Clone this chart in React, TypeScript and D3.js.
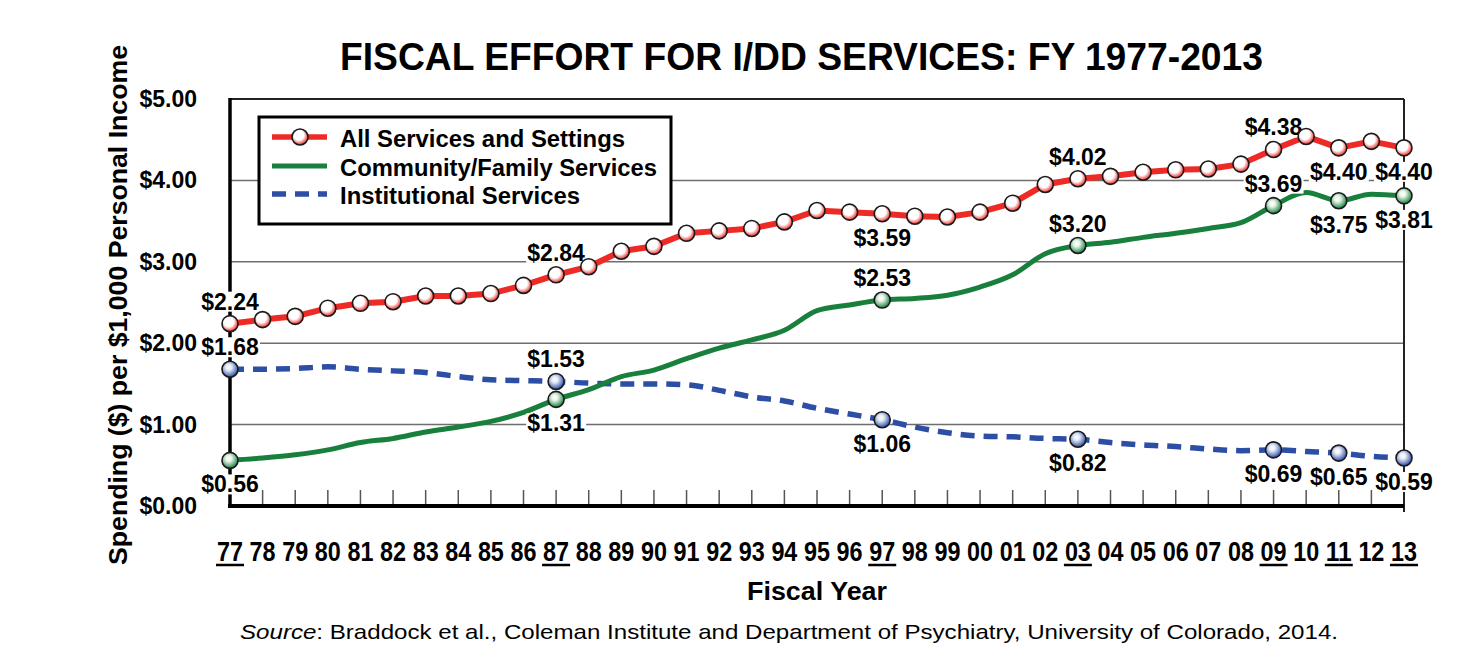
import React from 'react';
import * as d3 from 'd3';

const years = ['77','78','79','80','81','82','83','84','85','86','87','88','89','90','91','92','93','94','95','96','97','98','99','00','01','02','03','04','05','06','07','08','09','10','11','12','13'];
const allServices = [2.24,2.29,2.33,2.43,2.49,2.51,2.58,2.58,2.61,2.71,2.84,2.94,3.13,3.19,3.35,3.38,3.41,3.49,3.63,3.61,3.59,3.56,3.55,3.61,3.72,3.95,4.02,4.05,4.10,4.13,4.14,4.20,4.38,4.54,4.40,4.48,4.40];
const community = [0.56,0.59,0.63,0.69,0.78,0.83,0.91,0.97,1.04,1.15,1.31,1.43,1.59,1.67,1.81,1.94,2.04,2.16,2.40,2.47,2.53,2.55,2.59,2.69,2.84,3.10,3.20,3.24,3.30,3.35,3.41,3.48,3.69,3.85,3.75,3.83,3.81];
const institutional = [1.68,1.68,1.69,1.71,1.68,1.66,1.64,1.59,1.55,1.54,1.53,1.51,1.50,1.50,1.49,1.42,1.34,1.29,1.20,1.13,1.06,0.97,0.90,0.86,0.85,0.83,0.82,0.78,0.75,0.73,0.70,0.68,0.69,0.67,0.65,0.61,0.59];
const underlinedYears = ['77','87','97','03','09','11','13'];
const yTicks = [0,1,2,3,4,5];
const seriesNames = ['All Services and Settings','Community/Family Services','Institutional Services'];
// label positions: 'a' above, 'b' below for each labelled year
const redLabelPos = ['a','a','b','a','a','b','b'];
const greenLabelPos = ['b','b','a','a','a','b','b'];
const blueLabelPos = ['a','a','b','b','b','b','b'];

const RED = '#ee2a26';
const GREEN = '#18803c';
const BLUE = '#2c4ea5';
const FONT = '"Liberation Sans", Arial, Helvetica, sans-serif';
const fmt = d3.format('$.2f');

export default function App() {
  const W = 1468, H = 656;
  const x = d3.scalePoint<string>().domain(years).range([230, 1404]);
  const y = d3.scaleLinear().domain([0, 5]).range([506, 99]);
  const lineLinear = d3.line<number>().x((_, i) => x(years[i])!).y(d => y(d));
  const lineSmooth = d3.line<number>().x((_, i) => x(years[i])!).y(d => y(d)).curve(d3.curveMonotoneX);
  const left = x(years[0])!, right = x(years[years.length - 1])!;
  const top = y(5), bottom = y(0);

  const labelIdx = underlinedYears.map(yr => years.indexOf(yr));

  const makeLabels = (vals: number[], pos: string[], key: string) =>
    labelIdx.map((idx, k) => {
      const cx = x(years[idx])!;
      const py = y(vals[idx]);
      const base = pos[k] === 'a' ? py - 14 : py + 32;
      return (
        <g key={key + k}>
          <rect x={cx - 30} y={base - 18} width={60} height={20} fill="#fff" />
          <text x={cx} y={base} textAnchor="middle" fontFamily={FONT} fontWeight="bold" fontSize={23} fill="#000">{fmt(vals[idx])}</text>
        </g>
      );
    });

  const marker = (cx: number, cy: number, grad: string, key: string) => (
    <circle key={key} cx={cx} cy={cy} r={8} fill={`url(#${grad})`} stroke="#1a1a1a" strokeWidth={1.6} />
  );

  return (
    <svg width={W} height={H} style={{ position: 'absolute', left: 0, top: 0, background: '#fff' }}>
      <defs>
        <radialGradient id="gRed" cx="42%" cy="38%" r="62%">
          <stop offset="0%" stopColor="#fff" />
          <stop offset="50%" stopColor="#fff" />
          <stop offset="100%" stopColor={RED} />
        </radialGradient>
        <radialGradient id="gGreen" cx="42%" cy="38%" r="62%">
          <stop offset="0%" stopColor="#fff" />
          <stop offset="30%" stopColor="#e8f5ea" />
          <stop offset="100%" stopColor={GREEN} />
        </radialGradient>
        <radialGradient id="gBlue" cx="42%" cy="38%" r="62%">
          <stop offset="0%" stopColor="#fff" />
          <stop offset="30%" stopColor="#e6ebf7" />
          <stop offset="100%" stopColor={BLUE} />
        </radialGradient>
      </defs>

      {/* Title */}
      <text x={340} y={70} fontFamily={FONT} fontWeight="bold" fontSize={38} textLength={923} lengthAdjust="spacingAndGlyphs">FISCAL EFFORT FOR I/DD SERVICES: FY 1977-2013</text>

      {/* Gridlines */}
      {yTicks.filter(t => t > 0 && t < 5).map(t => (
        <line key={'g' + t} x1={left} x2={right} y1={y(t)} y2={y(t)} stroke="#6e6e6e" strokeWidth={1.5} />
      ))}

      {/* Y tick labels */}
      {yTicks.map(t => (
        <text key={'yt' + t} x={197} y={y(t) + 8} textAnchor="end" fontFamily={FONT} fontWeight="bold" fontSize={23}>{fmt(t)}</text>
      ))}

      {/* X ticks */}
      {years.map(yr => (
        <line key={'xt' + yr} x1={x(yr)} x2={x(yr)} y1={bottom} y2={bottom - 16} stroke="#555" strokeWidth={1.5} />
      ))}
      {years.map(yr => (
        <g key={'xl' + yr}>
          <text x={x(yr)} y={561} textAnchor="middle" fontFamily={FONT} fontWeight="bold" fontSize={27} textLength={26} lengthAdjust="spacingAndGlyphs">{yr}</text>
          {underlinedYears.includes(yr) && (
            <line x1={x(yr)! - 14} x2={x(yr)! + 14} y1={565} y2={565} stroke="#000" strokeWidth={2.5} />
          )}
        </g>
      ))}

      {/* Frame */}
      <line x1={left} x2={right} y1={top} y2={top} stroke="#222" strokeWidth={2} />
      <line x1={right} x2={right} y1={top} y2={bottom + 6} stroke="#222" strokeWidth={2} />
      <line x1={left} x2={left} y1={top - 1} y2={bottom + 2} stroke="#000" strokeWidth={3.5} />
      <line x1={left - 2} x2={right} y1={bottom} y2={bottom} stroke="#000" strokeWidth={4} />

      {/* Lines */}
      <path d={lineSmooth(institutional)!} fill="none" stroke={BLUE} strokeWidth={5.5} strokeDasharray="14 9" />
      <path d={lineSmooth(community)!} fill="none" stroke={GREEN} strokeWidth={5} />
      <path d={lineLinear(allServices)!} fill="none" stroke={RED} strokeWidth={6} strokeLinejoin="round" />

      {/* Data labels */}
      {makeLabels(allServices, redLabelPos, 'rl')}
      {makeLabels(community, greenLabelPos, 'gl')}
      {makeLabels(institutional, blueLabelPos, 'bl')}

      {/* Markers */}
      {labelIdx.map(i => marker(x(years[i])!, y(institutional[i]), 'gBlue', 'bm' + i))}
      {labelIdx.map(i => marker(x(years[i])!, y(community[i]), 'gGreen', 'gm' + i))}
      {allServices.map((v, i) => marker(x(years[i])!, y(v), 'gRed', 'rm' + i))}

      {/* Legend */}
      <rect x={259} y={117} width={412} height={107} fill="#fff" stroke="#000" strokeWidth={3} />
      <line x1={272} x2={327} y1={137} y2={137} stroke={RED} strokeWidth={5.5} />
      {marker(300, 137, 'gRed', 'legm')}
      <line x1={272} x2={327} y1={166} y2={166} stroke={GREEN} strokeWidth={5} />
      <line x1={272} x2={327} y1={194} y2={194} stroke={BLUE} strokeWidth={5.5} strokeDasharray="14 9" />
      {seriesNames.map((n, i) => (
        <text key={'leg' + i} x={340} y={147 + i * 28.5} fontFamily={FONT} fontWeight="bold" fontSize={23}
          textLength={[285, 317, 240][i]} lengthAdjust="spacingAndGlyphs">{n}</text>
      ))}

      {/* Axis titles */}
      <text transform="translate(127,305) rotate(-90)" textAnchor="middle" fontFamily={FONT} fontWeight="bold" fontSize={25} textLength={520} lengthAdjust="spacingAndGlyphs">Spending ($) per $1,000 Personal Income</text>
      <text x={817} y={600} textAnchor="middle" fontFamily={FONT} fontWeight="bold" fontSize={25} textLength={140} lengthAdjust="spacingAndGlyphs">Fiscal Year</text>

      {/* Source */}
      <text x={240} y={639} fontFamily={FONT} fontSize={21} textLength={1098} lengthAdjust="spacingAndGlyphs">
        <tspan fontStyle="italic">Source</tspan>:  Braddock et al., Coleman Institute and Department of Psychiatry, University of Colorado, 2014.
      </text>
    </svg>
  );
}
